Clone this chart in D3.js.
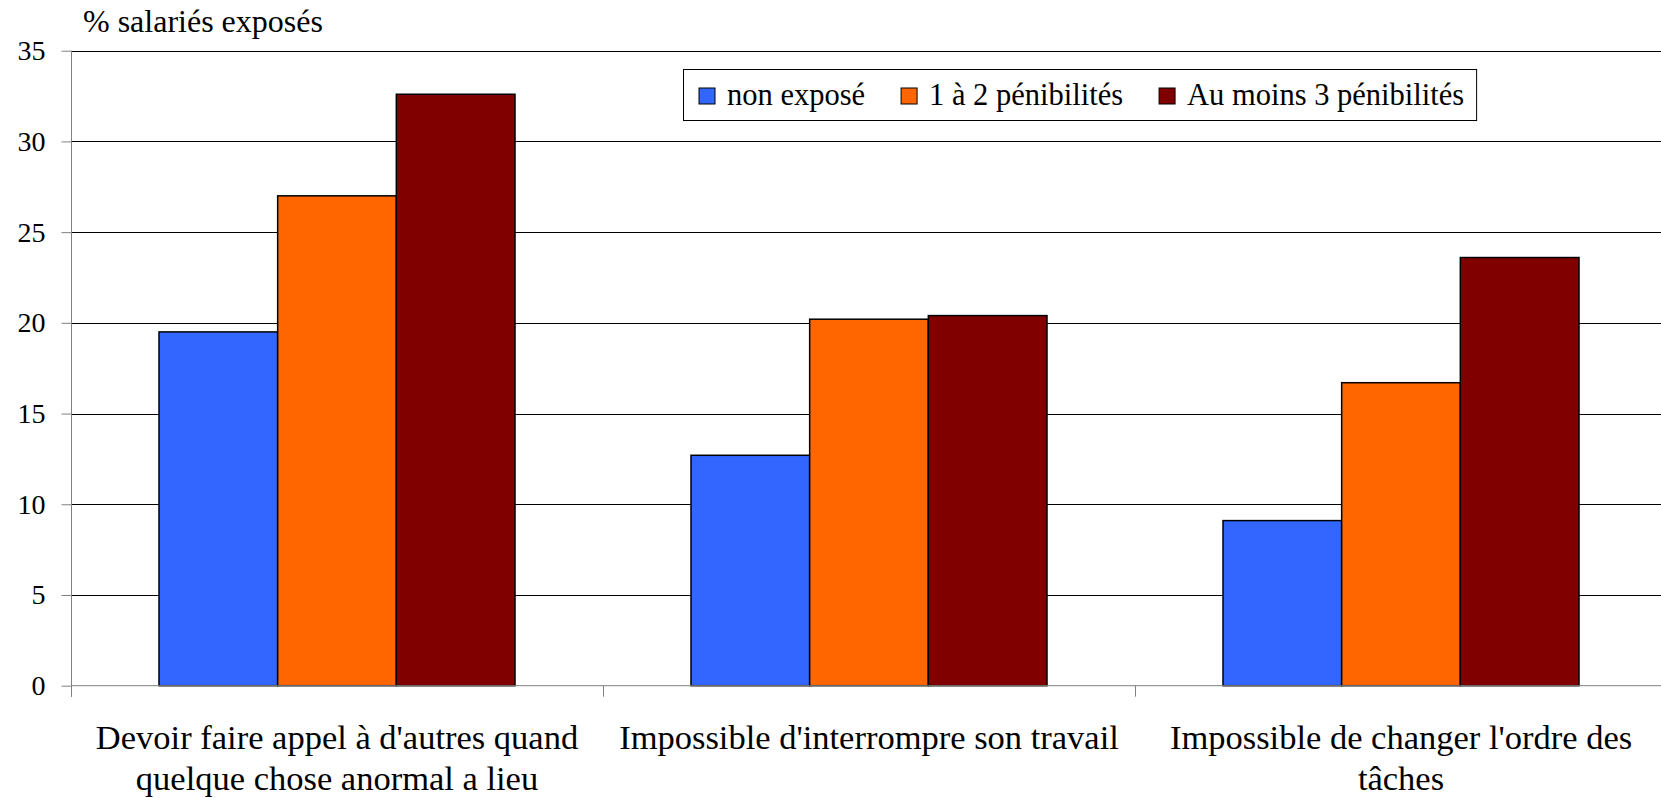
<!DOCTYPE html>
<html><head><meta charset="utf-8">
<script src="https://cdn.jsdelivr.net/npm/d3@7"></script>
<style>
html,body{margin:0;padding:0;background:#fff;}
svg{display:block;}
</style></head>
<body>
<svg id="chart" width="1661" height="798"></svg>
<script>
const categories = [
  ["Devoir faire appel à d'autres quand", "quelque chose anormal a lieu"],
  ["Impossible d'interrompre son travail"],
  ["Impossible de changer l'ordre des", "tâches"]
];
const seriesNames = ["non exposé", "1 à 2 pénibilités", "Au moins 3 pénibilités"];
const seriesColors = ["#3366FF", "#FF6600", "#800000"];
const nonExpose = [19.5, 12.7, 9.1];
const unADeux = [27.0, 20.2, 16.7];
const auMoinsTrois = [32.6, 20.4, 23.6];
const yTicks = [0, 5, 10, 15, 20, 25, 30, 35];
const yTitle = "% salariés exposés";

(function () {
const FONT = "'Liberation Serif', 'Times New Roman', serif";
const series = [nonExpose, unADeux, auMoinsTrois];
const svg = d3.select("#chart");
const pLeft = 71, pRight = 1667, pTop = 50.7, pBottom = 685.7;

const x0 = d3.scaleBand().domain(d3.range(categories.length)).range([pLeft, pRight]).paddingInner(0).paddingOuter(0);
const bw = x0.bandwidth();
const gap = 88;
const x1 = d3.scaleBand().domain(d3.range(series.length)).range([gap, bw - gap]).padding(0);
const y = d3.scaleLinear().domain([0, 35]).range([pBottom, pTop]);

// gridlines
svg.append("g").selectAll("line").data(yTicks.filter(d => d > 0)).join("line")
  .attr("x1", pLeft).attr("x2", 1661)
  .attr("y1", d => Math.round(y(d)) + 0.5).attr("y2", d => Math.round(y(d)) + 0.5)
  .attr("stroke", "#000").attr("stroke-width", 1);

// y axis
const yAxis = d3.axisLeft(y).tickValues(yTicks).tickSize(10).tickPadding(16).tickFormat(d3.format("d"));
const gy = svg.append("g").attr("transform", `translate(${pLeft + 0.5},0)`).call(yAxis);
gy.attr("font-family", FONT).attr("font-size", 28);
gy.select(".domain").attr("stroke", "#808080").attr("d", `M0,${pTop}V${pBottom + 11}`);
gy.selectAll(".tick line").attr("stroke", "#808080");
gy.selectAll(".tick text").attr("fill", "#000");

// bars
const groups = svg.append("g").selectAll("g").data(categories).join("g")
  .attr("transform", (d, i) => `translate(${x0(i)},0)`);
groups.selectAll("rect").data((d, i) => series.map((s, j) => ({ j, v: s[i] }))).join("rect")
  .attr("x", d => x1(d.j))
  .attr("width", x1.bandwidth())
  .attr("y", d => y(d.v))
  .attr("height", d => y(0) - y(d.v))
  .attr("fill", d => seriesColors[d.j])
  .attr("stroke", "#000").attr("stroke-width", 1.5);

// x axis
const xAxis = d3.axisBottom(x0).tickSize(0).tickFormat("");
const gx = svg.append("g").attr("transform", `translate(0,${pBottom})`).call(xAxis);
gx.select(".domain").attr("stroke", "#808080").attr("d", `M${pLeft},0H1661`);
svg.append("g").selectAll("line").data(d3.range(categories.length + 1)).join("line")
  .attr("x1", i => Math.round(pLeft + i * bw) + 0.5).attr("x2", i => Math.round(pLeft + i * bw) + 0.5)
  .attr("y1", pBottom).attr("y2", pBottom + 11)
  .attr("stroke", "#808080");

// category labels
const lab = svg.append("g").attr("font-family", FONT).attr("font-size", 34.5)
  .selectAll("text").data(categories).join("text")
  .attr("text-anchor", "middle").attr("fill", "#000")
  .attr("transform", (d, i) => `translate(${x0(i) + bw / 2},749)`);
lab.selectAll("tspan").data(d => d).join("tspan")
  .attr("x", 0).attr("y", (d, k) => k * 41).text(d => d);

// y title
svg.append("text").attr("x", 83).attr("y", 32).attr("font-family", FONT).attr("font-size", 32)
  .attr("fill", "#000").text(yTitle);

// legend
const leg = svg.append("g").attr("font-family", FONT).attr("font-size", 30.5);
const box = leg.append("rect").attr("fill", "#fff").attr("stroke", "#000").attr("stroke-width", 1);
let cx = 699;
seriesNames.forEach((name, j) => {
  leg.append("rect").attr("x", cx).attr("y", 88).attr("width", 16).attr("height", 16)
    .attr("fill", seriesColors[j]).attr("stroke", "#000").attr("stroke-width", 1);
  const t = leg.append("text").attr("x", cx + 28).attr("y", 105).attr("fill", "#000").text(name);
  cx = cx + 28 + t.node().getComputedTextLength() + 36;
});
box.attr("x", 683.5).attr("y", 69.5).attr("width", cx - 36 + 12 - 683).attr("height", 51);
})();
</script>
</body></html>
